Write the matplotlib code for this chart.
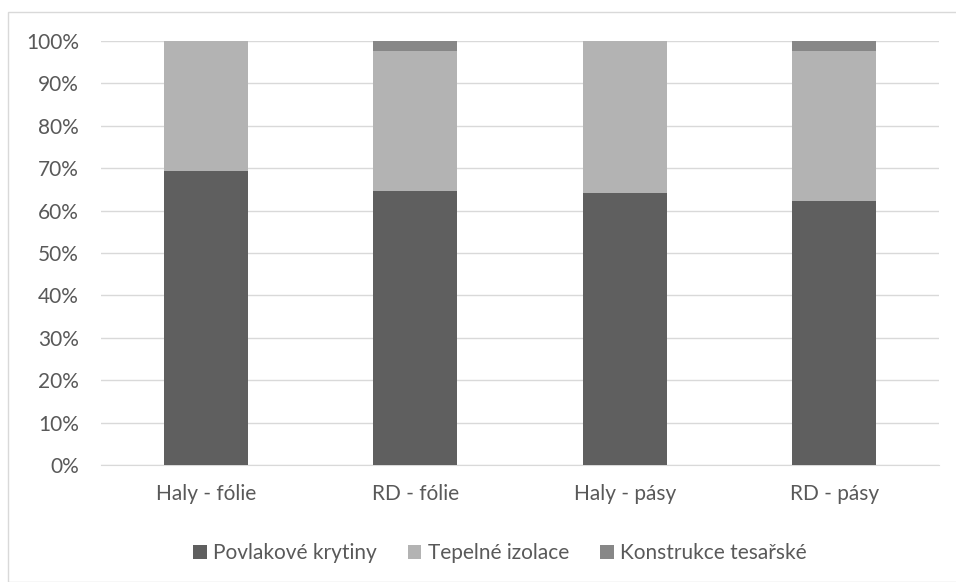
import matplotlib.pyplot as plt
from matplotlib.patches import Rectangle
from matplotlib.ticker import PercentFormatter

categories = ['Haly - fólie', 'RD - fólie', 'Haly - pásy', 'RD - pásy']
povlakove = [69.4, 64.7, 64.1, 62.3]
tepelne = [30.6, 33.0, 35.9, 35.4]
konstrukce = [0.0, 2.3, 0.0, 2.3]

plt.rcParams['font.family'] = ['Lato', 'DejaVu Sans']
txt = '#595959'

fig = plt.figure(figsize=(9.56, 5.82), dpi=100)
ax = fig.add_axes([101 / 956, 117 / 582, 838 / 956, 424 / 582])

# chart border
fig.patches.append(Rectangle((8 / 956, 0), 1, 570 / 582, transform=fig.transFigure,
                             fill=False, edgecolor='#d9d9d9', linewidth=1))

x = range(len(categories))
w = 0.4
ax.bar(x, povlakove, w, color='#5f5f5f', label='Povlakové krytiny', zorder=3)
ax.bar(x, tepelne, w, bottom=povlakove, color='#b3b3b3', label='Tepelné izolace', zorder=3)
bottoms = [a + b for a, b in zip(povlakove, tepelne)]
ax.bar(x, konstrukce, w, bottom=bottoms, color='#878787', label='Konstrukce tesařské', zorder=3)

ax.set_xlim(-0.5, len(categories) - 0.5)
ax.set_ylim(0, 100)
ax.set_yticks(range(0, 101, 10))
ax.yaxis.set_major_formatter(PercentFormatter(decimals=0))
ax.set_xticks(list(x))
ax.set_xticklabels(categories)
ax.grid(axis='y', color='#d9d9d9', linewidth=1, zorder=0)
for s in ['top', 'right', 'left']:
    ax.spines[s].set_visible(False)
ax.spines['bottom'].set_color('#d9d9d9')
ax.tick_params(axis='both', length=0, labelsize=15, colors=txt)
ax.tick_params(axis='y', pad=16)
ax.tick_params(axis='x', pad=14)

leg = ax.legend(loc='upper center', bbox_to_anchor=(0.476, -0.14), ncol=3, frameon=False,
                fontsize=15, handlelength=0.65, handleheight=0.65, handletextpad=0.3,
                columnspacing=1.5)
for t in leg.get_texts():
    t.set_color(txt)

fig.savefig('out.png', dpi=100)
